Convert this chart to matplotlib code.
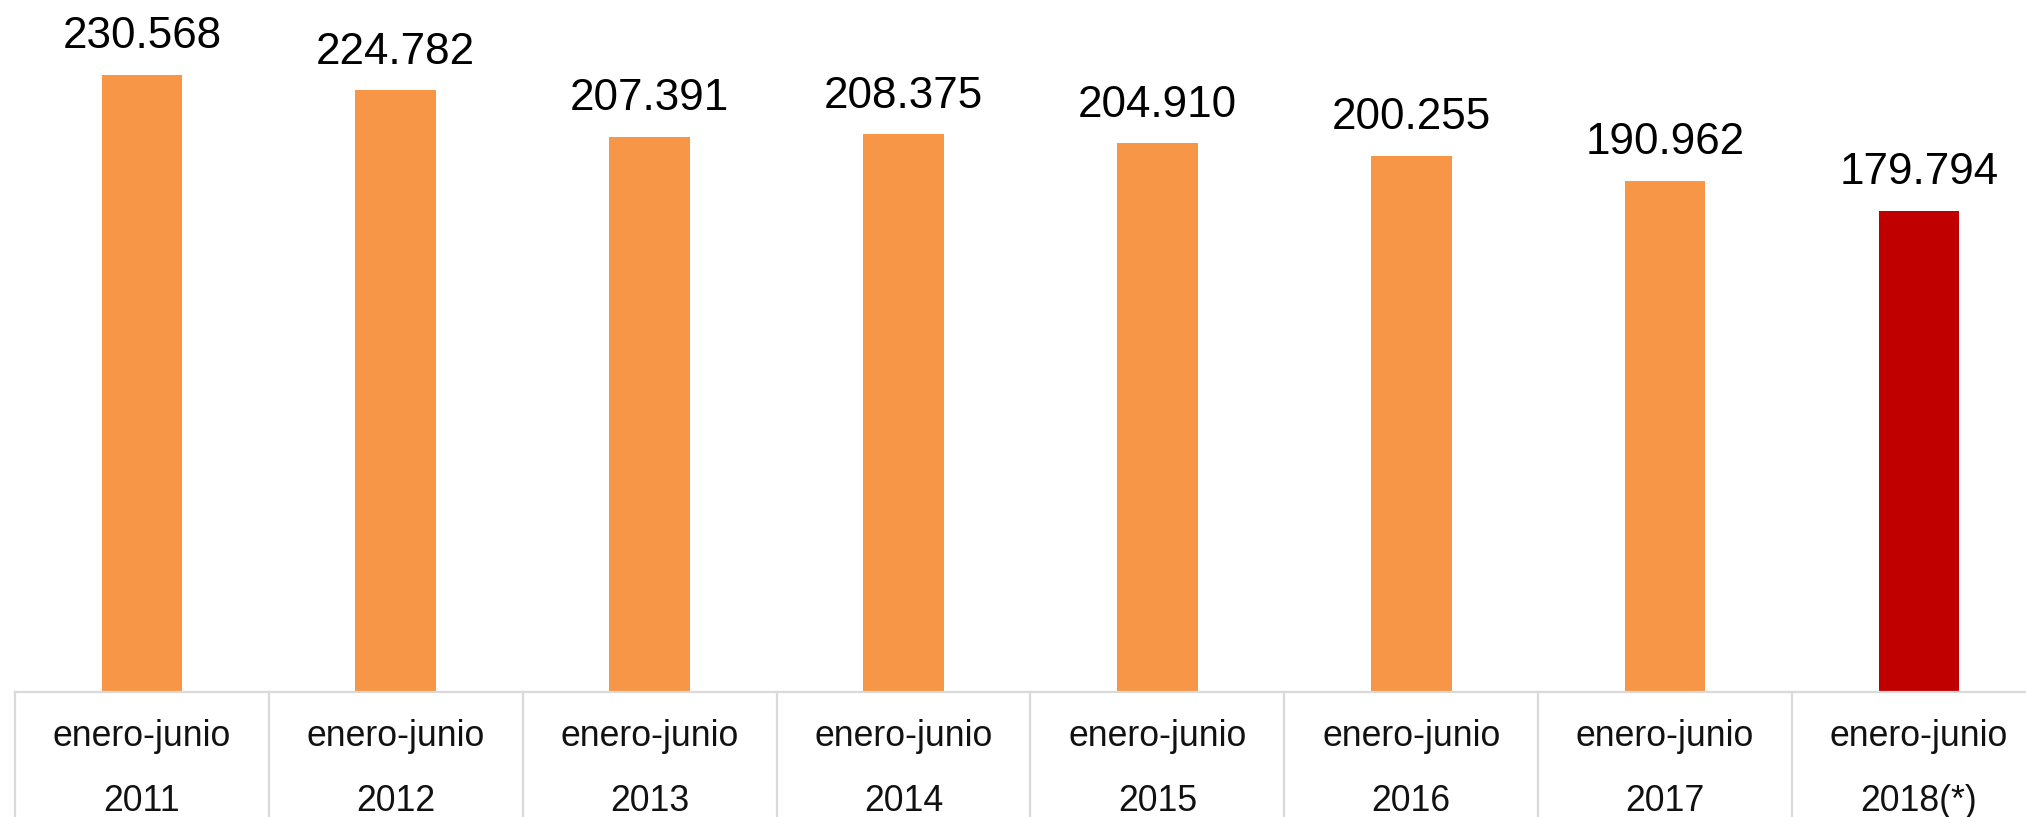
import matplotlib
matplotlib.use("Agg")
import matplotlib.pyplot as plt

periods = ["enero-junio"] * 8
years = ["2011", "2012", "2013", "2014", "2015", "2016", "2017", "2018(*)"]
values = [230568, 224782, 207391, 208375, 204910, 200255, 190962, 179794]
value_labels = ["230.568", "224.782", "207.391", "208.375", "204.910", "200.255", "190.962", "179.794"]
colors = ["#F79646"] * 7 + ["#C00000"]

plt.rcParams['font.family'] = ['Liberation Sans', 'DejaVu Sans']

W, H = 2026, 817
fig = plt.figure(figsize=(W / 100, H / 100), dpi=100)
left_px, bottom_px = 15, 692
ax = fig.add_axes([left_px / W, (H - bottom_px) / H, 1 - left_px / W, bottom_px / H])

x = list(range(len(values)))
bars = ax.bar(x, values, width=0.318, color=colors, zorder=2)

spacing = 253.86
ax.set_xlim(-0.5, -0.5 + (W - left_px) / spacing)
ax.set_ylim(0, bottom_px / 0.002678)

for rect, lab in zip(bars, value_labels):
    ax.annotate(lab, (rect.get_x() + rect.get_width() / 2, rect.get_height()),
                xytext=(0, 19), textcoords="offset points",
                ha="center", va="baseline", fontsize=31.7, color="black")

for s in ax.spines.values():
    s.set_visible(False)
ax.set_xticks([])
ax.set_yticks([])

grid_col = "#D9D9D9"
tr = ax.get_xaxis_transform()
ax.plot([-0.5, ax.get_xlim()[1]], [0, 0], transform=tr, color=grid_col, lw=1.6,
        clip_on=False, zorder=3)
for i in range(len(values) + 1):
    ax.plot([i - 0.5, i - 0.5], [0, -0.3], transform=tr, color=grid_col, lw=1.6,
            clip_on=False, zorder=3)

y_per = -(746 - bottom_px) / bottom_px
y_year = -(811 - bottom_px) / bottom_px
for i, (p, yv) in enumerate(zip(periods, years)):
    ax.text(i, y_per, p, transform=tr, ha="center", va="baseline", fontsize=25.7, color="#111111")
    ax.text(i, y_year, yv, transform=tr, ha="center", va="baseline", fontsize=25.7, color="#111111")

fig.savefig("out.png", dpi=100, facecolor="white")
